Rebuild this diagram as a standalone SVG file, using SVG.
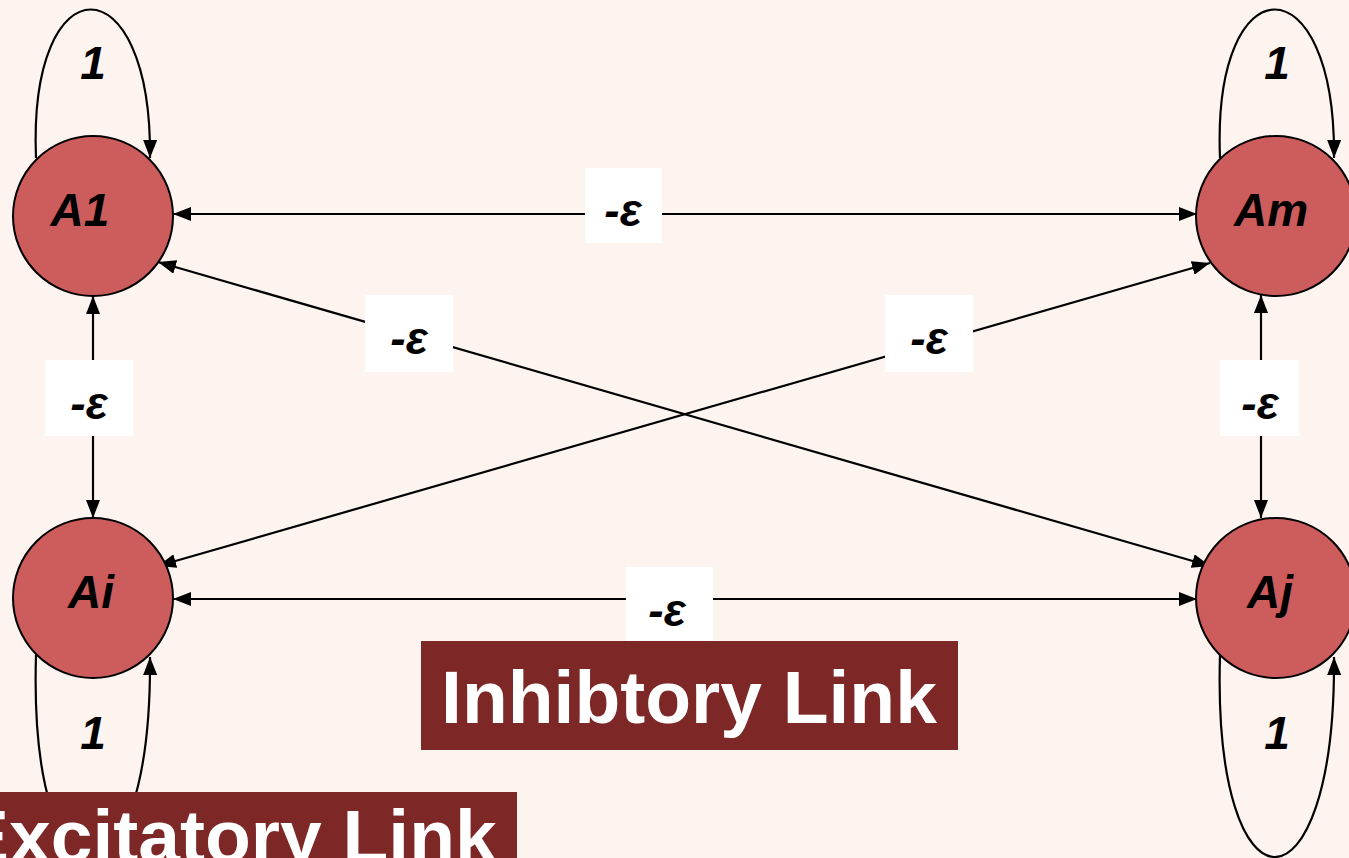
<svg xmlns="http://www.w3.org/2000/svg" width="1349" height="858" viewBox="0 0 1349 858">
<style>
.bg{fill:#FEF4EF}
.node{fill:#CD5C5C;stroke:#000;stroke-width:2}
.nl{font-family:"Liberation Sans",Arial,sans-serif;font-weight:bold;font-style:italic;font-size:46px;fill:#000;text-anchor:middle}
.e{stroke:#000;stroke-width:2.2;fill:none}
.lb{fill:#FFFFFF}
.el{font-family:"Liberation Sans",Arial,sans-serif;font-weight:bold;font-style:italic;font-size:46px;fill:#000;text-anchor:middle}
.one{font-family:"Liberation Sans",Arial,sans-serif;font-weight:bold;font-style:italic;font-size:46px;fill:#000;text-anchor:middle}
.tb{fill:#7D2727}
.tt{font-family:"Liberation Sans",Arial,sans-serif;font-weight:bold;font-size:75px;fill:#FFFFFF}
</style>
<defs>
<marker id="ah" viewBox="0 0 18 14" refX="18" refY="7" markerWidth="18" markerHeight="14" markerUnits="userSpaceOnUse" orient="auto-start-reverse">
<path d="M0,0 L18,7 L0,14 Z" fill="#000"/>
</marker>
</defs>
<rect class="bg" x="0" y="0" width="1349" height="858"/>
<g id="connectors">
<path class="e" d="M173,214 L1197,214" marker-start="url(#ah)" marker-end="url(#ah)"/>
<path class="e" d="M173,599 L1197,599" marker-start="url(#ah)" marker-end="url(#ah)"/>
<path class="e" d="M93,296 L93,518" marker-start="url(#ah)" marker-end="url(#ah)"/>
<path class="e" d="M1261,295 L1261,518" marker-start="url(#ah)" marker-end="url(#ah)"/>
<path class="e" d="M158,262 L1210,566" marker-start="url(#ah)" marker-end="url(#ah)"/>
<path class="e" d="M158,566 L1210,263" marker-start="url(#ah)" marker-end="url(#ah)"/>
<path class="e" d="M36,158 C28,-40 152,-40 150,158" marker-end="url(#ah)"/>
<path class="e" d="M1220,158 C1212,-40 1336,-40 1334,158" marker-end="url(#ah)"/>
<path class="e" d="M36,655 C28,924 152,924 150,657" marker-end="url(#ah)"/>
<path class="e" d="M1220,655 C1212,924 1336,924 1334,657" marker-end="url(#ah)"/>
<rect class="lb" x="585" y="168" width="77" height="75"/>
<text class="el" x="623" y="226">-ε</text>
<rect class="lb" x="626" y="567" width="87" height="74"/>
<text class="el" x="667" y="626">-ε</text>
<rect class="lb" x="45" y="360" width="88" height="76"/>
<text class="el" x="89" y="419">-ε</text>
<rect class="lb" x="1220" y="360" width="79" height="76"/>
<text class="el" x="1260" y="419">-ε</text>
<rect class="lb" x="365" y="295" width="88" height="77"/>
<text class="el" x="409" y="354">-ε</text>
<rect class="lb" x="885" y="295" width="88" height="77"/>
<text class="el" x="929" y="354">-ε</text>
<text class="one" x="93" y="79">1</text>
<text class="one" x="1277" y="79">1</text>
<text class="one" x="93" y="749">1</text>
<text class="one" x="1277" y="749">1</text>
</g>
<g id="A1"><circle class="node" cx="93" cy="216" r="80"/><text class="nl" x="80" y="226">A1</text></g>
<g id="Am"><circle class="node" cx="1276" cy="216" r="80"/><text class="nl" x="1271" y="226">Am</text></g>
<g id="Ai"><circle class="node" cx="93" cy="598" r="80"/><text class="nl" x="91" y="608">Ai</text></g>
<g id="Aj"><circle class="node" cx="1276" cy="598" r="80"/><text class="nl" x="1270" y="608">Aj</text></g>
<g id="inhibitory-legend"><rect class="tb" x="421" y="641" width="537" height="109"/><text class="tt" x="689" y="723" text-anchor="middle">Inhibtory Link</text></g>
<g id="excitatory-legend"><rect class="tb" x="0" y="792" width="517" height="70"/><text class="tt" x="-41" y="862">Excitatory Link</text></g>
</svg>
